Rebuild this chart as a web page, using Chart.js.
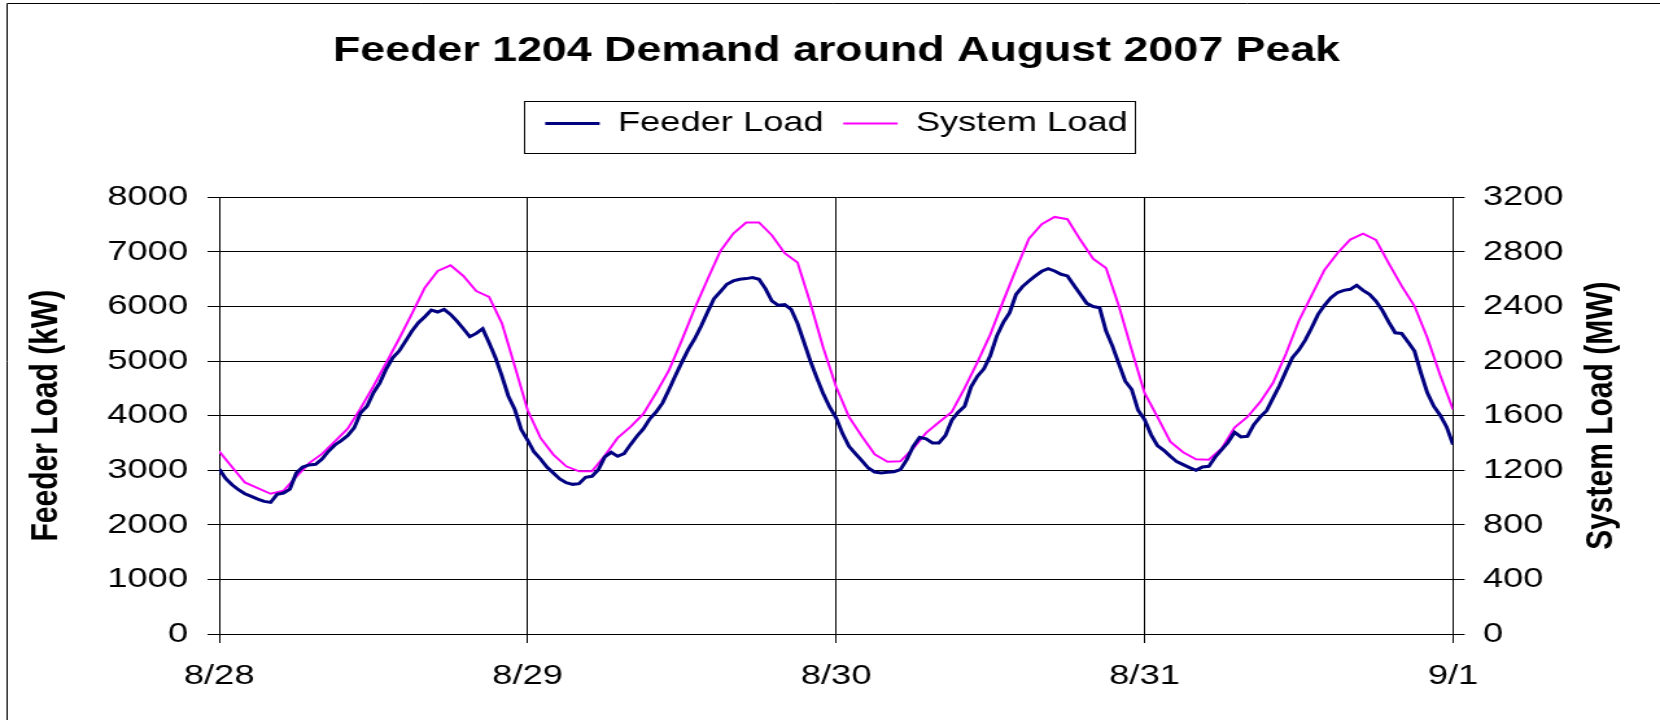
<!DOCTYPE html>
<html>
<head>
<meta charset="utf-8">
<title>Feeder 1204 Demand around August 2007 Peak</title>
<script src="https://cdn.jsdelivr.net/npm/chart.js@4.4.1/dist/chart.umd.min.js"></script>
<style>
  html, body { margin: 0; padding: 0; background: #fff; }
</style>
</head>
<body>
<!-- the source chart was stretched sideways, so the canvas is drawn narrow and widened -->
<canvas id="chart-load" width="1280" height="720" style="display:block;width:1660px;height:720px"></canvas>
<script>
var dayLabels = ["8/28", "8/29", "8/30", "8/31", "9/1"];

// Feeder 1204 load (kW), every half hour from 8/28 00:00 to 9/1 00:00
var feederLoad = [
  3023, 2852, 2736, 2644, 2570, 2521, 2472, 2430, 2411, 2558, 2583, 2656,
  2950, 3060, 3097, 3109, 3207, 3348, 3464, 3543, 3635, 3776, 4051, 4174,
  4419, 4602, 4859, 5061, 5184, 5367, 5551, 5704, 5814, 5936, 5900, 5949,
  5857, 5734, 5594, 5447, 5508, 5594, 5337, 5061, 4725, 4357, 4113, 3745,
  3550, 3335, 3207, 3060, 2950, 2840, 2772, 2742, 2754, 2870, 2889, 3011,
  3244, 3329, 3256, 3305, 3470, 3623, 3758, 3941, 4070, 4235, 4480, 4737,
  4982, 5214, 5410, 5643, 5900, 6144, 6273, 6408, 6469, 6500, 6512, 6530,
  6500, 6328, 6102, 6022, 6034, 5949, 5692, 5349, 5000, 4694, 4400, 4155,
  3960, 3672, 3439, 3305, 3176, 3042, 2968, 2950, 2962, 2974, 3011, 3195,
  3439, 3605, 3574, 3501, 3501, 3635, 3917, 4064, 4174, 4529, 4725, 4859,
  5104, 5459, 5704, 5887, 6224, 6365, 6469, 6561, 6646, 6695, 6652, 6591,
  6561, 6389, 6224, 6059, 6000, 5979, 5551, 5275, 4951, 4633, 4480, 4100,
  3929, 3654, 3452, 3366, 3256, 3158, 3103, 3048, 2999, 3060, 3072, 3244,
  3378, 3513, 3696, 3611, 3623, 3837, 3978, 4094, 4327, 4553, 4816, 5061,
  5202, 5386, 5612, 5857, 6022, 6163, 6255, 6297, 6316, 6389, 6297, 6224,
  6102, 5930, 5716, 5520, 5508, 5349, 5184, 4786, 4419, 4174, 4009, 3794,
  3470
];

// System load (MW), hourly
var systemLoad = [
  1339, 1224, 1111, 1070, 1028, 1050, 1153, 1253, 1320, 1412, 1505, 1654,
  1816, 1988, 2164, 2348, 2538, 2661, 2702, 2624, 2514, 2470, 2277, 1963,
  1640, 1437, 1315, 1229, 1192, 1192, 1307, 1437, 1518, 1613, 1768, 1934,
  2154, 2387, 2600, 2808, 2935, 3016, 3016, 2923, 2791, 2722, 2424, 2098,
  1812, 1591, 1449, 1317, 1263, 1266, 1361, 1474, 1552, 1628, 1802, 1993,
  2196, 2440, 2673, 2898, 3004, 3057, 3040, 2889, 2750, 2683, 2404, 2081,
  1767, 1591, 1410, 1332, 1280, 1278, 1361, 1513, 1591, 1701, 1841, 2054,
  2294, 2482, 2668, 2791, 2891, 2935, 2889, 2717, 2551, 2404, 2171, 1897,
  1645
];

var fontFamily = "'Liberation Sans', Arial, Helvetica, sans-serif";

var feederPoints = feederLoad.map(function (v, i) {
  return { x: i * 0.5, y: v };
});
var systemPoints = systemLoad.map(function (v, i) {
  return { x: i, y: v };
});

// extra room under the legend, the boxed legend, the frame line and
// the right axis title (reads bottom-to-top like the left one)
var legendFrame = {
  id: "legendFrame",
  beforeInit: function (chart) {
    var originalFit = chart.legend.fit;
    chart.legend.fit = function fit() {
      originalFit.bind(chart.legend)();
      this.height += 50;
    };
  },
  afterDraw: function (chart) {
    var ctx = chart.ctx;
    var area = chart.chartArea;
    var boxes = chart.legend.legendHitBoxes;
    ctx.save();
    ctx.strokeStyle = "#000";
    ctx.lineWidth = 1;
    if (boxes && boxes.length) {
      var first = boxes[0];
      var last = boxes[boxes.length - 1];
      ctx.strokeRect(
        Math.round(first.left - 16) + 0.5,
        Math.round(first.top - 8) + 0.5,
        Math.round(last.left + last.width - first.left + 22),
        Math.round(first.height + 24)
      );
    }
    // outer chart frame (only left and top edges are visible)
    ctx.beginPath();
    ctx.moveTo(5.5, 720);
    ctx.lineTo(5.5, 3.5);
    ctx.lineTo(1280, 3.5);
    ctx.stroke();

    ctx.translate(1235, (area.top + area.bottom) / 2);
    ctx.rotate(-Math.PI / 2);
    ctx.fillStyle = "#000";
    ctx.font = "bold 30px " + fontFamily;
    ctx.textAlign = "center";
    ctx.textBaseline = "middle";
    ctx.fillText("System Load (MW)", 0, 0);
    ctx.restore();
  },
};

var ctx1 = document.getElementById("chart-load").getContext("2d");
new Chart(ctx1, {
  type: "line",
  data: {
    datasets: [
      {
        label: "Feeder Load",
        data: feederPoints,
        yAxisID: "y",
        borderColor: "#000080",
        backgroundColor: "#000080",
        borderWidth: 3,
        pointRadius: 0,
        tension: 0,
      },
      {
        label: "System Load",
        data: systemPoints,
        yAxisID: "y2",
        borderColor: "#ff00ff",
        backgroundColor: "#ff00ff",
        borderWidth: 2,
        pointRadius: 0,
        tension: 0,
      },
    ],
  },
  options: {
    responsive: false,
    animation: false,
    layout: {
      padding: { left: 10, right: 0, top: 10, bottom: 0 },
    },
    plugins: {
      title: {
        display: true,
        text: "Feeder 1204 Demand around August 2007 Peak",
        color: "#000",
        font: { family: fontFamily, size: 34.5, weight: "bold" },
        padding: { top: 21, bottom: 22 },
      },
      legend: {
        display: true,
        position: "top",
        labels: {
          color: "#000",
          font: { family: fontFamily, size: 28 },
          usePointStyle: true,
          pointStyle: "line",
          pointStyleWidth: 42,
          padding: 15,
        },
      },
      tooltip: { enabled: false },
    },
    scales: {
      x: {
        type: "linear",
        min: 0,
        max: 96,
        afterFit: function (scale) {
          scale.height = 86;
        },
        ticks: {
          stepSize: 24,
          autoSkip: false,
          maxRotation: 0,
          padding: 16,
          color: "#000",
          font: { family: fontFamily, size: 28 },
          callback: function (value) {
            return dayLabels[value / 24];
          },
        },
        grid: { color: "#000", lineWidth: 1, tickLength: 9 },
        border: { color: "#000" },
      },
      y: {
        position: "left",
        min: 0,
        max: 8000,
        afterFit: function (scale) {
          scale.width = 159;
        },
        ticks: {
          stepSize: 1000,
          padding: 15,
          color: "#000",
          font: { family: fontFamily, size: 28 },
          callback: function (value) {
            return String(value);
          },
        },
        grid: { color: "#000", lineWidth: 1, tickLength: 9 },
        border: { color: "#000" },
        title: {
          display: true,
          text: "Feeder Load (kW)",
          color: "#000",
          font: { family: fontFamily, size: 30, weight: "bold" },
          padding: { top: 8, bottom: 0 },
        },
      },
      y2: {
        position: "right",
        min: 0,
        max: 3200,
        afterFit: function (scale) {
          scale.width = 159.6;
        },
        ticks: {
          stepSize: 400,
          padding: 14,
          color: "#000",
          font: { family: fontFamily, size: 28 },
          callback: function (value) {
            return String(value);
          },
        },
        grid: {
          drawOnChartArea: false,
          color: "#000",
          lineWidth: 1,
          tickLength: 9,
        },
        border: { color: "#000" },
      },
    },
  },
  plugins: [legendFrame],
});
</script>
</body>
</html>
